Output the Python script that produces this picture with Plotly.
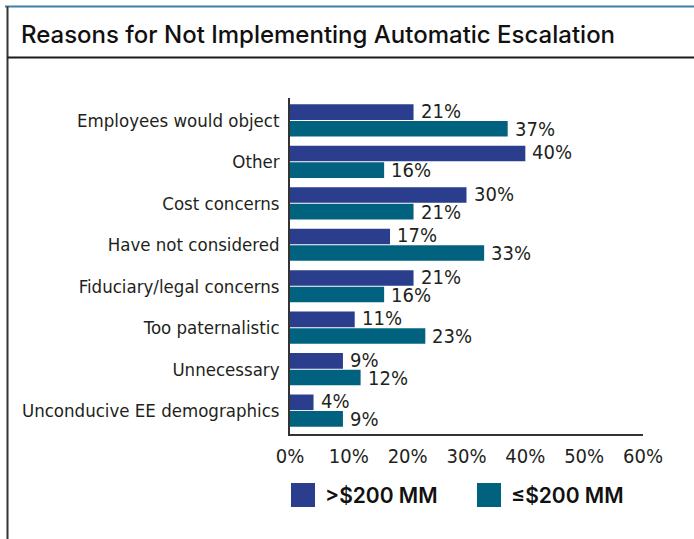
import plotly.graph_objects as go

# Survey data: share of plan sponsors citing each reason
categories = [
    "Employees would object",
    "Other",
    "Cost concerns",
    "Have not considered",
    "Fiduciary/legal concerns",
    "Too paternalistic",
    "Unnecessary",
    "Unconducive EE demographics",
]
large_plans = [21, 40, 30, 17, 21, 11, 9, 4]    # >$200 MM
small_plans = [37, 16, 21, 33, 16, 23, 12, 9]   # <=$200 MM

series_names = [">$200 MM", "≤$200 MM"]
series_colors = ["#2B3D8D", "#00627F"]
x_ticks = [0, 10, 20, 30, 40, 50, 60]
x_tick_labels = [f"{t}%" for t in x_ticks]

W, H = 694, 539
L, R, T, B = 290, 51, 98, 105
PW, PH = W - L - R, H - T - B
BARGAP, GROUPGAP = 0.2, 0.06

narrow = "DejaVu Sans Condensed, Liberation Sans Narrow, sans-serif"
heading = "Inter, Liberation Sans, sans-serif"
text_color = "#231F20"


def px_x(px):
    return (px - L) / PW


def px_y(py):
    return (H - B - py) / PH


fig = go.Figure()
for name, vals, col in zip(series_names, [large_plans, small_plans], series_colors):
    fig.add_trace(go.Bar(
        y=categories,
        x=vals,
        name=name,
        orientation="h",
        marker=dict(color=col, line=dict(width=0)),
        showlegend=False,
        hoverinfo="skip",
    ))

shapes = [
    # top rule
    dict(type="line", xref="paper", yref="paper",
         x0=px_x(5), x1=px_x(W + 2), y0=px_y(6.5), y1=px_y(6.5),
         line=dict(color="#3E7FA6", width=2)),
    # left frame edge
    dict(type="line", xref="paper", yref="paper",
         x0=px_x(7.5), x1=px_x(7.5), y0=px_y(6.5), y1=px_y(H + 2),
         line=dict(color="#333333", width=2)),
    # rule under the heading
    dict(type="line", xref="paper", yref="paper",
         x0=px_x(7.5), x1=px_x(W + 2), y0=px_y(57.5), y1=px_y(57.5),
         line=dict(color="#1A1A1A", width=1.8)),
]

annotations = [
    dict(text="Reasons for Not Implementing Automatic Escalation",
         xref="paper", yref="paper", x=px_x(19), y=px_y(34),
         xanchor="left", yanchor="middle", showarrow=False,
         font=dict(family=heading, size=24, color="#111111", weight=500)),
]

# value labels just past the end of each bar
slot = PH / len(categories) * (1 - BARGAP) / 2
offsets = [slot / 2 + 1, -slot / 2]
for vals, dy in zip([large_plans, small_plans], offsets):
    for cat, v in zip(categories, vals):
        annotations.append(dict(text=f"{v}%", x=v, y=cat, xref="x", yref="y",
                                xanchor="left", yanchor="middle", xshift=5, yshift=dy,
                                showarrow=False,
                                font=dict(family=narrow, size=20, color=text_color)))

# legend swatches and labels
legend_x = [291, 477]
for name, col, lx in zip(series_names, series_colors, legend_x):
    shapes.append(dict(type="rect", xref="paper", yref="paper",
                       x0=px_x(lx), x1=px_x(lx + 24), y0=px_y(483), y1=px_y(507),
                       fillcolor=col, line=dict(width=0)))
    annotations.append(dict(text=name, xref="paper", yref="paper",
                            x=px_x(lx + 32), y=px_y(495),
                            xanchor="left", yanchor="middle", showarrow=False,
                            font=dict(family=heading, size=21, color="#111111", weight=600)))

fig.update_layout(
    width=W, height=H,
    margin=dict(l=L, r=R, t=T, b=B, pad=0, autoexpand=False),
    paper_bgcolor="white", plot_bgcolor="white",
    barmode="group", bargap=BARGAP, bargroupgap=GROUPGAP,
    shapes=shapes, annotations=annotations,
    showlegend=False,
    xaxis=dict(range=[0, 60], tickvals=x_ticks, ticktext=x_tick_labels,
               automargin=False,
               showgrid=False, zeroline=False, showline=True,
               linecolor="#333333", linewidth=2,
               ticks="outside", ticklen=0, ticklabelstandoff=3,
               tickfont=dict(family=narrow, size=20, color=text_color)),
    yaxis=dict(autorange="reversed", automargin=False,
               showgrid=False, zeroline=False,
               showline=True, linecolor="#333333", linewidth=1.5,
               ticks="outside", ticklen=0, ticklabelstandoff=5,
               tickfont=dict(family=narrow, size=18.5, color=text_color)),
)

fig.write_html("out.html")
